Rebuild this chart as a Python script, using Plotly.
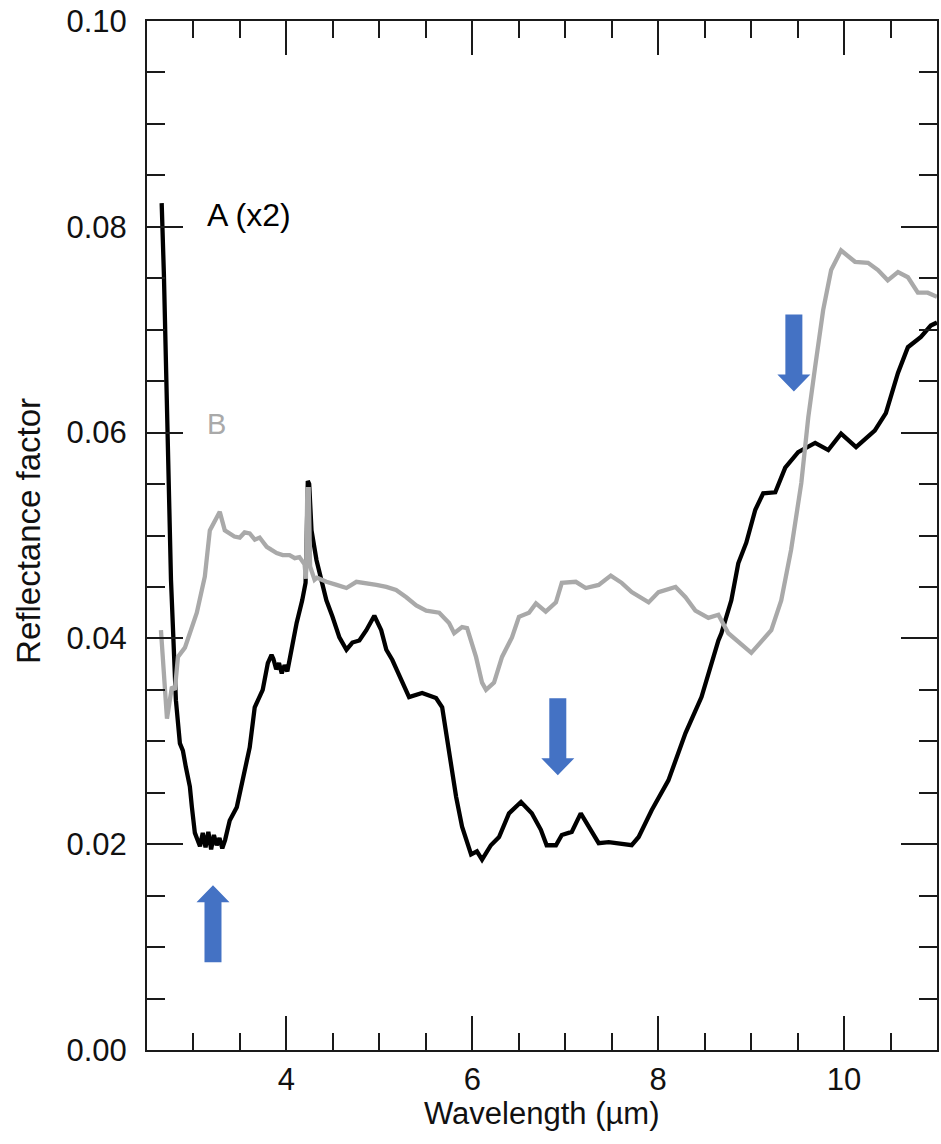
import plotly.graph_objects as go

# ---------------- data ----------------
a_wavelength = [2.658, 2.682, 2.758, 2.800, 2.811, 2.854, 2.886, 2.918, 2.961, 2.983, 3.015,
                3.04, 3.07, 3.10, 3.13, 3.16, 3.19, 3.22, 3.25, 3.28, 3.31, 3.34, 3.37, 3.39,
                3.466, 3.53, 3.605, 3.659, 3.745, 3.80, 3.84, 3.86, 3.89, 3.92, 3.95, 3.98, 4.01,
                4.04, 4.11, 4.17, 4.206, 4.215, 4.23, 4.245, 4.27, 4.324, 4.367, 4.43, 4.496,
                4.57, 4.646, 4.71, 4.785, 4.86, 4.946, 5.02, 5.075, 5.14, 5.19, 5.247, 5.32,
                5.46, 5.61, 5.676, 5.75, 5.826, 5.89, 5.987, 6.05, 6.105, 6.20, 6.288, 6.395,
                6.524, 6.64, 6.738, 6.80, 6.90, 6.963, 7.07, 7.167, 7.253, 7.36, 7.468, 7.575,
                7.715, 7.79, 7.93, 8.11, 8.294, 8.466, 8.573, 8.648, 8.68, 8.787, 8.862, 8.948,
                9.045, 9.13, 9.26, 9.367, 9.506, 9.689, 9.83, 9.968, 10.129, 10.33, 10.45,
                10.58, 10.687, 10.827, 10.933, 11.0]
a_reflectance = [0.0823, 0.0753, 0.0457, 0.0372, 0.0340, 0.0298, 0.0291, 0.0275, 0.0256, 0.0236, 0.0211,
                 0.0205, 0.0198, 0.0211, 0.0197, 0.0212, 0.0195, 0.0209, 0.0199, 0.0206, 0.0196, 0.0204, 0.0215, 0.0223,
                 0.0236, 0.0262, 0.0294, 0.0333, 0.0350, 0.0376, 0.0384, 0.0380, 0.0370, 0.0376, 0.0366, 0.0374, 0.0368,
                 0.0382, 0.0415, 0.0437, 0.0454, 0.0480, 0.0553, 0.0550, 0.0505, 0.0476, 0.0459, 0.0437, 0.0421,
                 0.0401, 0.0389, 0.0396, 0.0398, 0.0408, 0.0422, 0.0408, 0.0389, 0.0379, 0.0369, 0.0357, 0.0343,
                 0.0347, 0.0342, 0.0333, 0.0291, 0.0246, 0.0217, 0.0190, 0.0193, 0.0185, 0.0199, 0.0207, 0.0230,
                 0.0241, 0.0230, 0.0214, 0.0199, 0.0199, 0.0209, 0.0212, 0.0230, 0.0217, 0.0201, 0.0202, 0.0201,
                 0.0199, 0.0207, 0.0233, 0.0262, 0.0308, 0.0343, 0.0376, 0.0398, 0.0405, 0.0437, 0.0473, 0.0493,
                 0.0525, 0.0541, 0.0542, 0.0566, 0.0581, 0.0590, 0.0583, 0.0599, 0.0586, 0.0602, 0.0619,
                 0.0658, 0.0683, 0.0693, 0.0704, 0.0707]

b_wavelength = [2.65, 2.693, 2.715, 2.768, 2.80, 2.833, 2.908, 2.961, 3.036, 3.09, 3.122, 3.176,
                3.25, 3.283, 3.337, 3.39, 3.44, 3.498, 3.55, 3.605, 3.66, 3.712, 3.788, 3.84,
                3.895, 3.96, 4.034, 4.09, 4.14, 4.195, 4.21, 4.225, 4.24, 4.255, 4.303, 4.33,
                4.43, 4.54, 4.646, 4.753, 4.86, 4.968, 5.075, 5.18, 5.29, 5.397, 5.504, 5.644,
                5.75, 5.805, 5.89, 5.944, 6.04, 6.105, 6.148, 6.234, 6.32, 6.427, 6.502, 6.61,
                6.685, 6.79, 6.90, 6.963, 7.114, 7.22, 7.36, 7.49, 7.607, 7.715, 7.897, 8.004,
                8.187, 8.294, 8.40, 8.54, 8.648, 8.755, 9.002, 9.217, 9.324, 9.43, 9.54, 9.615,
                9.689, 9.775, 9.861, 9.968, 10.118, 10.258, 10.365, 10.47, 10.58, 10.687,
                10.794, 10.90, 11.0]
b_reflectance = [0.0408, 0.0347, 0.0322, 0.0353, 0.0350, 0.0382, 0.0391, 0.0405, 0.0425, 0.0447, 0.0460, 0.0505,
                 0.0518, 0.0523, 0.0505, 0.0502, 0.0499, 0.0498, 0.0503, 0.0502, 0.0496, 0.0498, 0.0489, 0.0486,
                 0.0483, 0.0481, 0.0481, 0.0478, 0.0479, 0.0472, 0.0458, 0.0545, 0.0545, 0.0470, 0.0457, 0.0459,
                 0.0455, 0.0452, 0.0449, 0.0455, 0.0454, 0.0452, 0.0450, 0.0447, 0.0440, 0.0432, 0.0427, 0.0425,
                 0.0415, 0.0405, 0.0411, 0.0410, 0.0382, 0.0357, 0.0350, 0.0357, 0.0382, 0.0401, 0.0421, 0.0425,
                 0.0434, 0.0426, 0.0435, 0.0454, 0.0455, 0.0449, 0.0452, 0.0461, 0.0454, 0.0445, 0.0435, 0.0445,
                 0.0450, 0.0440, 0.0427, 0.0420, 0.0423, 0.0405, 0.0386, 0.0408, 0.0437, 0.0486, 0.0551, 0.0615,
                 0.0664, 0.0719, 0.0758, 0.0777, 0.0766, 0.0765, 0.0758, 0.0748, 0.0756, 0.0751,
                 0.0736, 0.0736, 0.0732]

x_tickvals = [4, 6, 8, 10]
y_tickvals = [0.00, 0.02, 0.04, 0.06, 0.08, 0.10]

label_text = ["A (x2)", "B"]
label_x = [3.12, 3.12]
label_y = [0.0811, 0.0608]

arrow_x = [3.21, 6.92, 9.46]
arrow_tip_y = [0.0160, 0.0267, 0.0640]
arrow_dir = ["up", "down", "down"]

# ---------------- styles ----------------
FONT = "Liberation Sans, Arial, Helvetica, sans-serif"
AX = "#1a1a1a"
BLUE = "#4472C4"

fig = go.Figure()
fig.add_trace(go.Scatter(x=a_wavelength, y=a_reflectance, mode="lines",
                         line=dict(color="#000000", width=4.3), showlegend=False))
fig.add_trace(go.Scatter(x=b_wavelength, y=b_reflectance, mode="lines",
                         line=dict(color="#a9a9a9", width=4.3), showlegend=False))

for t, x, y, c, s in zip(label_text, label_x, label_y, ["#000000", "#a9a9a9"], [32, 29]):
    fig.add_annotation(x=x, y=y, text=t, showarrow=False, xanchor="left", yanchor="middle",
                       font=dict(family=FONT, size=s, color=c))

# block arrows (pixel-sized polygons anchored at the tip)
HW, SW, HL, L = 16.5, 8.5, 17, 77
for x, y, d in zip(arrow_x, arrow_tip_y, arrow_dir):
    s = 1 if d == "down" else -1
    pts = [(0, 0), (-HW, s * HL), (-SW, s * HL), (-SW, s * L), (SW, s * L), (SW, s * HL), (HW, s * HL)]
    path = "M " + " L ".join(f"{px},{py}" for px, py in pts) + " Z"
    fig.add_shape(type="path", path=path, xref="x", yref="y",
                  xsizemode="pixel", ysizemode="pixel", xanchor=x, yanchor=y,
                  fillcolor=BLUE, line=dict(width=0))

common = dict(showgrid=False, zeroline=False, showline=True, linecolor=AX, linewidth=2,
              ticks="inside", tickcolor=AX, tickwidth=2, mirror="allticks",
              tickfont=dict(family=FONT, size=31, color="#111111"))

fig.update_xaxes(range=[2.5, 11], tickvals=x_tickvals, ticklen=34, ticklabelstandoff=1,
                 minor=dict(dtick=0.5, tick0=0, ticklen=17, tickwidth=2, tickcolor=AX, ticks="inside"),
                 **common)
fig.update_yaxes(range=[0, 0.10], tickvals=y_tickvals, tickformat=".2f", ticklen=36, ticklabelstandoff=12,
                 minor=dict(dtick=0.005, tick0=0, ticklen=18, tickwidth=2, tickcolor=AX, ticks="inside"),
                 **common)

fig.add_annotation(text="Wavelength (µm)", xref="paper", yref="paper", x=0.5, y=-0.062,
                   xanchor="center", yanchor="middle", showarrow=False,
                   font=dict(family=FONT, size=31, color="#111111"))
fig.add_annotation(text="Reflectance factor", xref="paper", yref="paper", x=-0.150, y=0.504,
                   xanchor="center", yanchor="middle", textangle=-90, showarrow=False,
                   font=dict(family=FONT, size=33, color="#111111"))

fig.update_layout(width=941, height=1144, margin=dict(l=147, r=2, t=21, b=94),
                  plot_bgcolor="white", paper_bgcolor="white", showlegend=False)

fig.write_html("out.html")
